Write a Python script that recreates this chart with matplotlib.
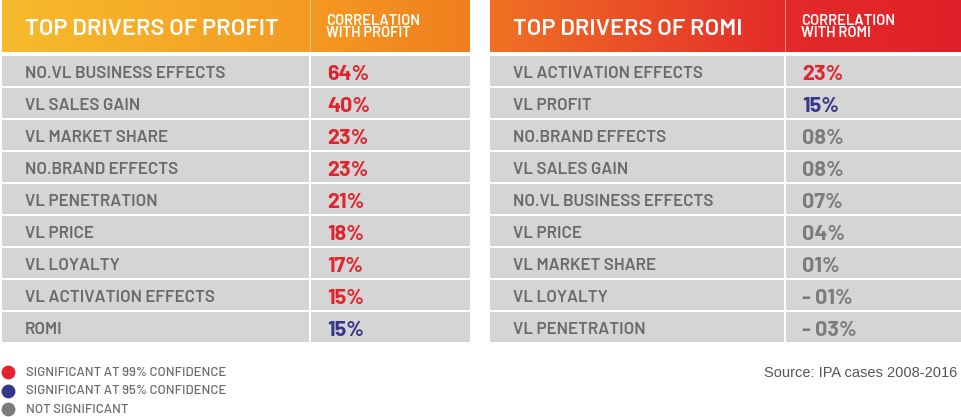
import matplotlib.pyplot as plt
import numpy as np
from matplotlib.colors import LinearSegmentedColormap

# data
profit_drivers = ['NO.VL BUSINESS EFFECTS', 'VL SALES GAIN', 'VL MARKET SHARE',
                  'NO.BRAND EFFECTS', 'VL PENETRATION', 'VL PRICE', 'VL LOYALTY',
                  'VL ACTIVATION EFFECTS', 'ROMI']
profit_corr = [64, 40, 23, 23, 21, 18, 17, 15, 15]
profit_sig = ['99', '99', '99', '99', '99', '99', '99', '99', '95']

romi_drivers = ['VL ACTIVATION EFFECTS', 'VL PROFIT', 'NO.BRAND EFFECTS',
                'VL SALES GAIN', 'NO.VL BUSINESS EFFECTS', 'VL PRICE',
                'VL MARKET SHARE', 'VL LOYALTY', 'VL PENETRATION']
romi_corr = [23, 15, 8, 8, 7, 4, 1, -1, -3]
romi_sig = ['99', '95', 'ns', 'ns', 'ns', 'ns', 'ns', 'ns', 'ns']

legend_labels = ['SIGNIFICANT AT 99% CONFIDENCE', 'SIGNIFICANT AT 95% CONFIDENCE',
                 'NOT SIGNIFICANT']
sig_colors = {'99': '#E2232E', '95': '#35388A', 'ns': '#7E7C7B'}

row_bg = '#D5D5D5'
label_col = '#6A6A6A'
font = ['Barlow', 'DejaVu Sans']

fig = plt.figure(figsize=(9.61, 4.17), dpi=100)
ax = fig.add_axes([0, 0, 1, 1])
ax.set_xlim(0, 961)
ax.set_ylim(417, 0)
ax.axis('off')


def fmt(v):
    if v < 0:
        return '- %02d%%' % abs(v)
    if v < 10:
        return '%02d%%' % v
    return '%d%%' % v


def draw_table(x0, xdiv, x1, title, sub, c_left, c_mid, c_right, drivers, vals, sig):
    # header gradient
    grad = np.linspace(0, 1, 256).reshape(1, -1)
    cm1 = LinearSegmentedColormap.from_list('h1', [c_left, c_mid])
    cm2 = LinearSegmentedColormap.from_list('h2', [c_mid, c_right])
    ax.imshow(grad, cmap=cm1, extent=[x0, xdiv, 52, 0], aspect='auto', zorder=1)
    ax.imshow(grad, cmap=cm2, extent=[xdiv, x1, 52, 0], aspect='auto', zorder=1)
    ax.plot([xdiv, xdiv], [0, 52], color='white', lw=0.8, alpha=0.4, zorder=2)
    ax.text(x0 + 23, 29, title, color='white', fontsize=17, fontweight='semibold',
            family=font, va='center', ha='left', zorder=3)
    ax.text(xdiv + 16, 27, sub, color='white', fontsize=10.5, fontweight='semibold',
            family=font, va='center', ha='left', linespacing=0.9, zorder=3)
    n = len(drivers)
    y = 56 + 32 * np.arange(n) + 15
    ax.barh(y, [xdiv - x0 - 1] * n, left=x0, height=30.5, color=row_bg, zorder=1)
    ax.barh(y, [x1 - xdiv - 1] * n, left=xdiv + 1, height=30.5, color=row_bg, zorder=1)
    for yi, d, v, s in zip(y, drivers, vals, sig):
        ax.text(x0 + 23, yi + 2, d, color=label_col, fontsize=12.2, fontweight='semibold',
                family=font, va='center', ha='left', zorder=3)
        ax.text(xdiv + 17, yi + 3, fmt(v), color=sig_colors[s], fontsize=15.5,
                fontweight='bold', family=font, va='center', ha='left', zorder=3)


draw_table(2, 310, 470, 'TOP DRIVERS OF PROFIT', 'CORRELATION\nWITH PROFIT',
           '#F7BC2D', '#F49A22', '#F07E1E', profit_drivers, profit_corr, profit_sig)
draw_table(490, 785, 961, 'TOP DRIVERS OF ROMI', 'CORRELATION\nWITH ROMI',
           '#F07224', '#E42A2A', '#DF2229', romi_drivers, romi_corr, romi_sig)

# legend
for i, (lab, k) in enumerate(zip(legend_labels, ['99', '95', 'ns'])):
    yy = 372 + 18.5 * i
    ax.scatter([8], [yy], s=80, color=sig_colors[k], zorder=3)
    ax.text(26, yy + 1, lab, color=label_col, fontsize=9.4,
            family=font, fontweight='medium', va='center', ha='left')

ax.text(957, 373, 'Source: IPA cases 2008-2016', color='#555555', fontsize=10.5,
        family=['Liberation Sans', 'DejaVu Sans'], va='center', ha='right')

fig.savefig('out.png', dpi=100)
